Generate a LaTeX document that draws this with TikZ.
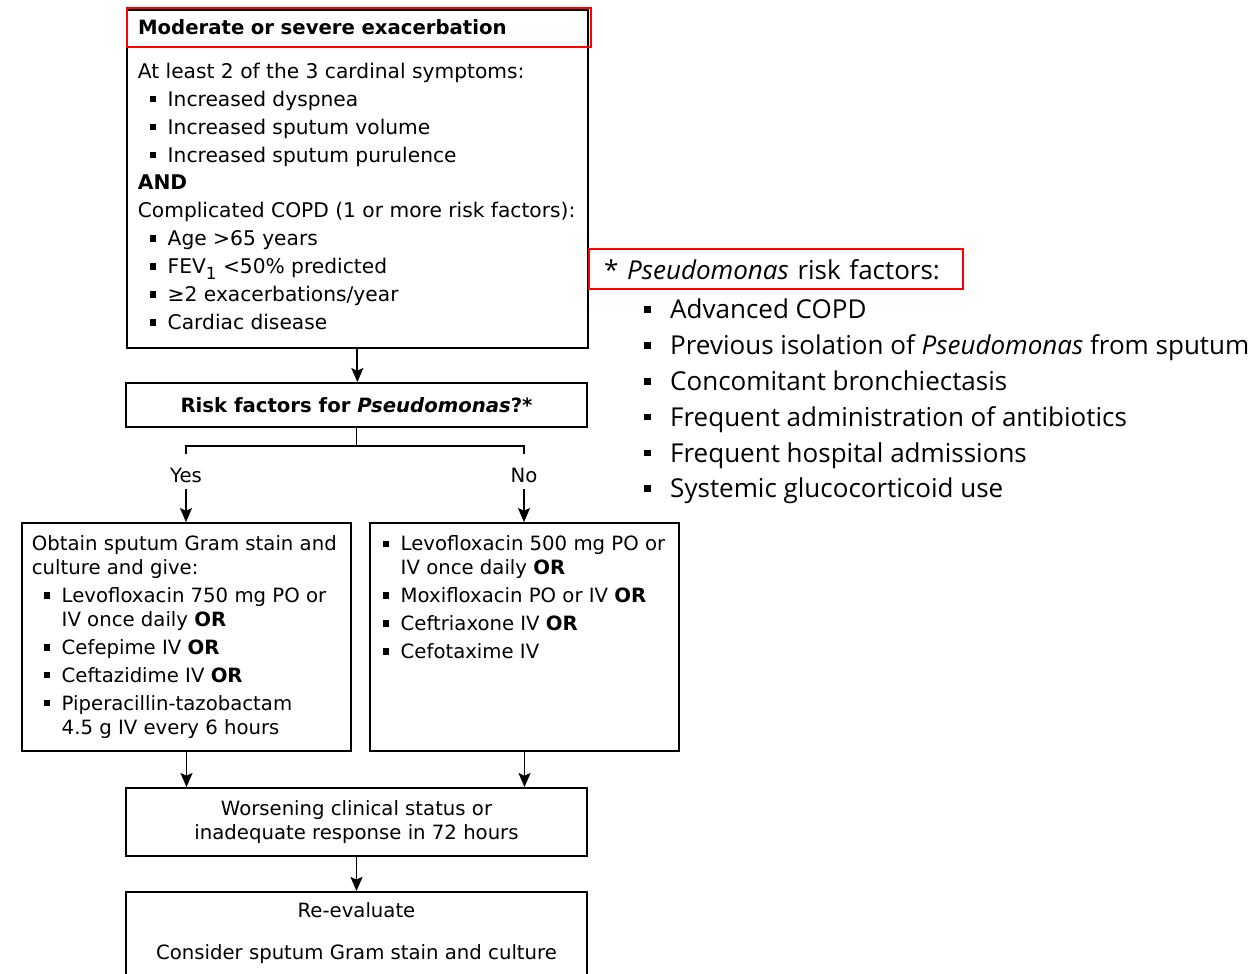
\documentclass[tikz,border=0pt]{standalone}
\usepackage{fontspec}
\setmainfont{DejaVu Sans}
\newfontfamily\notefont{Open Sans}
\usetikzlibrary{arrows.meta}

\newcommand{\headfont}{\fontsize{11.2pt}{15.9pt}\selectfont}
\newcommand{\boxfont}{\fontsize{11.5pt}{15.9pt}\selectfont}
\newcommand{\drugfont}{\fontsize{11.2pt}{13.6pt}\selectfont}
\newcommand{\notesize}{\notefont\fontsize{14.8pt}{20.4pt}\selectfont}
\newcommand{\bul}{\hspace*{6.8pt}\rule[0.2em]{3.6pt}{3.6pt}\hspace*{6.6pt}}
\newcommand{\nob}{\hspace*{17pt}}
\newcommand{\nbul}{\rule[0.22em]{3.8pt}{3.8pt}\hspace*{11.2pt}}

\tikzset{
  box/.style={draw, line width=1pt, inner sep=0pt},
  redbox/.style={draw=red, line width=1.3pt},
  >={Stealth[length=8pt,width=6.8pt,inset=1.5pt]},
}

\begin{document}
\begin{tikzpicture}[x=0.02cm, y=-0.02cm, line width=1pt]
\fill[white] (0,0) rectangle (1255,974);
\useasboundingbox (0,0) rectangle (1255,974);

% Exacerbation box
\node[box, anchor=north west, minimum width=9.22cm, minimum height=6.76cm] (exac) at (126,9) {};
\node[redbox, anchor=north west, minimum width=9.28cm, minimum height=0.78cm, inner xsep=0.22cm, text width=8.84cm, align=left, font=\headfont\bfseries] (head) at (126,7) {Moderate or severe exacerbation};
\node[anchor=north west, inner sep=0pt, align=left, font=\boxfont] (criteria) at (137,62) {At least 2 of the 3 cardinal symptoms:\\
\bul Increased dyspnea\\
\bul Increased sputum volume\\
\bul Increased sputum purulence\\
\textbf{AND}\\
Complicated COPD (1 or more risk factors):\\
\bul Age >65 years\\
\bul FEV\raisebox{-0.3em}{\fontsize{9.5pt}{9.5pt}\selectfont 1} <50\% predicted\\
\bul ≥2 exacerbations/year\\
\bul Cardiac disease};

% Risk question
\node[box, minimum width=9.22cm, minimum height=0.88cm, font=\headfont\bfseries] (risk) at (356.5,405) {Risk factors for \textit{Pseudomonas}?*};
\draw[->] (exac.south) -- (exac.south |- risk.north);

% Yes / No split
\coordinate (split) at (356.5,446);
\node[font=\drugfont] (yes) at (186,475) {Yes};
\node[font=\drugfont] (no) at (524,475) {No};
\draw (risk.south) -- (split);
\draw ([yshift=4pt]yes.north) |- (split) -| ([yshift=4pt]no.north);

% Antibiotic boxes
\node[box, minimum width=6.58cm, minimum height=4.56cm] (yesbox) at (186.5,637) {};
\node[anchor=north west, inner sep=0pt, align=left, font=\drugfont] (yestxt) at (31,535) {Obtain sputum Gram stain and\\
culture and give:\\[2.3pt]
\bul Levofloxacin 750 mg PO or\\
\nob IV once daily \textbf{OR}\\[2.3pt]
\bul Cefepime IV \textbf{OR}\\[2.3pt]
\bul Ceftazidime IV \textbf{OR}\\[2.3pt]
\bul Piperacillin-tazobactam\\
\nob 4.5 g IV every 6 hours};
\node[box, minimum width=6.18cm, minimum height=4.56cm] (nobox) at (524.5,637) {};
\node[anchor=north west, inner sep=0pt, align=left, font=\drugfont] (notxt) at (370,535) {\bul Levofloxacin 500 mg PO or\\
\nob IV once daily \textbf{OR}\\[2.3pt]
\bul Moxifloxacin PO or IV \textbf{OR}\\[2.3pt]
\bul Ceftriaxone IV \textbf{OR}\\[2.3pt]
\bul Cefotaxime IV};
\draw[->] (yes.south) -- (yes.south |- yesbox.north);
\draw[->] (no.south) -- (no.south |- nobox.north);

% Response check
\node[box, minimum width=9.22cm, minimum height=1.36cm, align=center, font=\drugfont] (worse) at (356.5,822) {Worsening clinical status or\\inadequate response in 72 hours};
\draw[->] (yesbox.south) -- (yesbox.south |- worse.north);
\draw[->] (nobox.south) -- (nobox.south |- worse.north);

% Re-evaluate (cut off at the bottom)
\node[box, anchor=north, minimum width=9.22cm, minimum height=2cm] (reeval) at (356.5,891) {};
\node[align=center, inner sep=0pt, font=\drugfont] (reevaltxt) at (356.5,933) {Re-evaluate\\[10.2pt]Consider sputum Gram stain and culture};
\draw[->] (worse.south) -- (reeval.north);

% Footnote
\node[redbox, anchor=north west, minimum width=7.48cm, minimum height=0.8cm, inner xsep=0.3cm, text width=6.88cm, text depth=0pt, align=left, font=\notesize] (pshead) at (588,248) {* \textit{Pseudomonas} risk factors:};
\node[anchor=north west, inner sep=0pt, align=left, font=\notesize] (psrisk) at (643,298) {\nbul Advanced COPD\\
\nbul Previous isolation of \textit{Pseudomonas} from sputum\\
\nbul Concomitant bronchiectasis\\
\nbul Frequent administration of antibiotics\\
\nbul Frequent hospital admissions\\
\nbul Systemic glucocorticoid use};

\end{tikzpicture}
\end{document}
